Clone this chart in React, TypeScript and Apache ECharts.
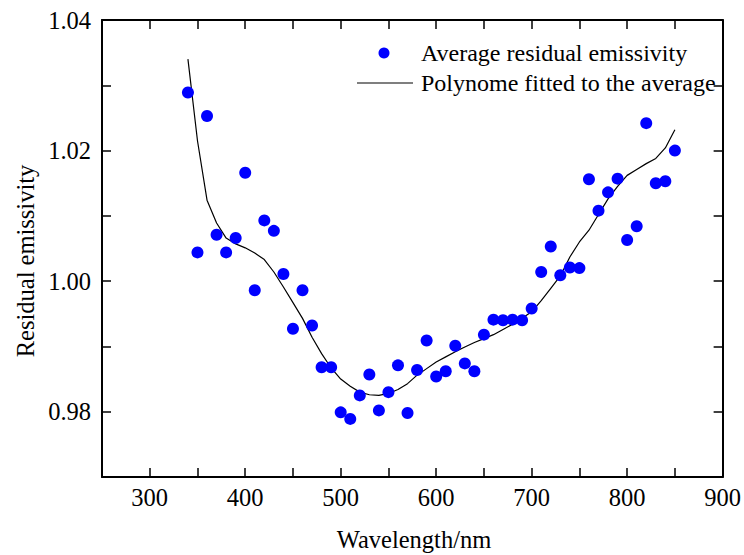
import React, { useEffect, useRef } from "react";
import * as echarts from "echarts";

const wavelengths = [
  340, 350, 360, 370, 380, 390, 400, 410, 420, 430, 440, 450, 460, 470, 480, 490,
  500, 510, 520, 530, 540, 550, 560, 570, 580, 590, 600, 610, 620, 630, 640, 650,
  660, 670, 680, 690, 700, 710, 720, 730, 740, 750, 760, 770, 780, 790, 800, 810,
  820, 830, 840, 850,
];

const averageEmissivity = [
  1.0289, 1.0044, 1.0253, 1.0071, 1.0044, 1.0066, 1.0166, 0.9986, 1.0093, 1.0077,
  1.0011, 0.9927, 0.9986, 0.9932, 0.9868, 0.9868, 0.9799, 0.9789, 0.9825, 0.9857,
  0.9802, 0.983, 0.9871, 0.9798, 0.9864, 0.9909, 0.9854, 0.9862, 0.9901, 0.9874,
  0.9862, 0.9918, 0.9941, 0.994, 0.9941, 0.994, 0.9958, 1.0014, 1.0053, 1.0009,
  1.0021, 1.002, 1.0156, 1.0108, 1.0136, 1.0157, 1.0063, 1.0084, 1.0242, 1.015,
  1.0153, 1.02,
];

const fittedPolynome = [
  1.034, 1.0215, 1.0124, 1.0089, 1.0066, 1.0057, 1.0051, 1.0043, 1.0033, 1.0014,
  0.9991, 0.9967, 0.9943, 0.9914, 0.9889, 0.9867, 0.985, 0.9839, 0.983, 0.9826,
  0.9825, 0.9828, 0.9834, 0.9843, 0.9856, 0.9866, 0.9876, 0.9884, 0.9892, 0.9899,
  0.9906, 0.9912, 0.9918, 0.9926, 0.9934, 0.9943, 0.9953, 0.997, 0.9989, 1.0008,
  1.0037, 1.006, 1.0078, 1.0102, 1.0126, 1.0145, 1.0162, 1.0171, 1.018, 1.0188,
  1.0204, 1.0232,
];

const xTickLabels = ["300", "400", "500", "600", "700", "800", "900"];
const yTickLabels = ["0.98", "1.00", "1.02", "1.04"];
const seriesNames = ["Average residual emissivity", "Polynome fitted to the average"];

const FONT = "Liberation Serif";

export default function App() {
  const ref = useRef<HTMLDivElement>(null);

  useEffect(() => {
    if (!ref.current) return;
    const chart = echarts.init(ref.current, undefined, { renderer: "svg" });

    const axisLine = { show: true, lineStyle: { color: "#000", width: 2 } };
    const axisTick = { show: true, inside: true, length: 9, lineStyle: { color: "#000", width: 1.5 } };

    const xFmt = (v: number) => {
      const s = String(Math.round(v));
      return xTickLabels.includes(s) ? s : "";
    };
    const yFmt = (v: number) => {
      const s = v.toFixed(2);
      return yTickLabels.includes(s) ? s : "";
    };

    const textStyle = (text: string) => ({
      text,
      font: `24.5px ${FONT}`,
      fill: "#000",
      textAlign: "center",
      textVerticalAlign: "middle",
    });

    const legendStyle = (text: string) => ({
      text,
      font: `24px ${FONT}`,
      fill: "#000",
      textAlign: "left",
      textVerticalAlign: "middle",
    });

    chart.setOption({
      animation: false,
      backgroundColor: "#fff",
      textStyle: { fontFamily: FONT },
      grid: { left: 102, right: 19, top: 20, bottom: 78 },
      xAxis: [
        {
          type: "value",
          min: 250,
          max: 900,
          interval: 50,
          position: "bottom",
          axisLine,
          axisTick,
          splitLine: { show: false },
          axisLabel: {
            formatter: xFmt,
            color: "#000",
            fontFamily: FONT,
            fontSize: 24.5,
            margin: 8,
            showMaxLabel: true,
            showMinLabel: true,
          },
        },
        {
          type: "value",
          min: 250,
          max: 900,
          interval: 50,
          position: "top",
          axisLine,
          axisTick,
          splitLine: { show: false },
          axisLabel: { show: false },
        },
      ],
      yAxis: [
        {
          type: "value",
          min: 0.97,
          max: 1.04,
          interval: 0.01,
          position: "left",
          axisLine,
          axisTick,
          splitLine: { show: false },
          axisLabel: {
            formatter: yFmt,
            color: "#000",
            fontFamily: FONT,
            fontSize: 24.5,
            margin: 11,
            showMaxLabel: true,
          },
        },
        {
          type: "value",
          min: 0.97,
          max: 1.04,
          interval: 0.01,
          position: "right",
          axisLine,
          axisTick,
          splitLine: { show: false },
          axisLabel: { show: false },
        },
      ],
      graphic: [
        { type: "text", x: 414, y: 539, style: textStyle("Wavelength/nm") },
        { type: "text", x: 25, y: 261, rotation: Math.PI / 2, style: textStyle("Residual emissivity") },
        { type: "circle", shape: { cx: 384, cy: 53, r: 5.5 }, style: { fill: "#0000ff" } },
        { type: "text", x: 421, y: 53, style: legendStyle(seriesNames[0]) },
        {
          type: "line",
          shape: { x1: 357, y1: 83, x2: 413, y2: 83 },
          style: { stroke: "#000", lineWidth: 1.2 },
        },
        { type: "text", x: 421, y: 83, style: legendStyle(seriesNames[1]) },
      ],
      series: [
        {
          name: seriesNames[0],
          type: "scatter",
          symbol: "circle",
          symbolSize: 12,
          itemStyle: { color: "#0000ff", opacity: 1 },
          data: wavelengths.map((w, i) => [w, averageEmissivity[i]]),
          z: 3,
        },
        {
          name: seriesNames[1],
          type: "line",
          symbol: "none",
          showSymbol: false,
          lineStyle: { color: "#000", width: 1.2 },
          itemStyle: { color: "#000" },
          data: wavelengths.map((w, i) => [w, fittedPolynome[i]]),
          z: 2,
        },
      ],
    });

    return () => chart.dispose();
  }, []);

  return <div ref={ref} style={{ width: 744, height: 555, position: "absolute", left: 0, top: 0 }} />;
}
